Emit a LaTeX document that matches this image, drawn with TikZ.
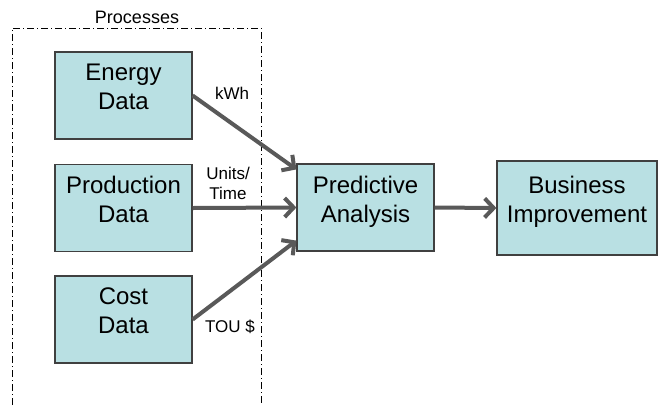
\documentclass[tikz,border=0pt]{standalone}
\usepackage{fontspec}
\setmainfont{Liberation Sans}
\usetikzlibrary{positioning, arrows.meta}

\definecolor{boxfill}{HTML}{B9E0E3}
\definecolor{boxline}{HTML}{404040}
\definecolor{arrowgray}{HTML}{595959}

\begin{document}
\begin{tikzpicture}[
        x=1pt, y=-1pt,
        box/.style={draw=boxline, fill=boxfill, rectangle, line width=1.2pt, minimum width=137pt, minimum height=87pt, align=center, inner sep=2pt, text depth=17pt, font=\fontsize{24}{29}\selectfont},
        tag/.style={align=center, inner sep=0pt, font=\fontsize{17}{20}\selectfont},
        frame/.style={line width=1pt, dash pattern=on 7pt off 3pt on 1pt off 3pt},
        arrow/.style={-{Straight Barb[length=9pt, width=19pt]}, line width=4pt, draw=arrowgray}
    ]
    \useasboundingbox (0,0) rectangle (658,405);

    % Processes frame
    \draw[frame] (12,405) |- (261,28) -- (261,405);
    \node[inner sep=0pt, font=\fontsize{18}{22}\selectfont] (proc) at (137,17) {Processes};

    % Nodes
    \node[box] (energy) at (123.5,95.5) {Energy\\Data};
    \node[box] (prod) at (123.5,208) {Production\\Data};
    \node[box] (cost) at (123.5,319.5) {Cost\\Data};
    \node[box] (pred) at (365.5,207.5) {Predictive\\Analysis};
    \node[box, minimum width=160pt, minimum height=94pt] (bus) at (577,208) {Business\\Improvement};

    % Labels
    \node[tag] (kwh) at (232,93) {kWh};
    \node[tag] (units) at (228,183) {Units/\\Time};
    \node[tag] (tou) at (230,327) {TOU \$};

    % Arrows
    \draw[arrow] (energy.east) -- ([yshift=-6pt]pred.north west);
    \draw[arrow] (prod.east) -- (pred.west);
    \draw[arrow] (cost.east) -- ([yshift=11pt]pred.south west);
    \draw[arrow] (pred.east) -- (bus.west);
\end{tikzpicture}
\end{document}
